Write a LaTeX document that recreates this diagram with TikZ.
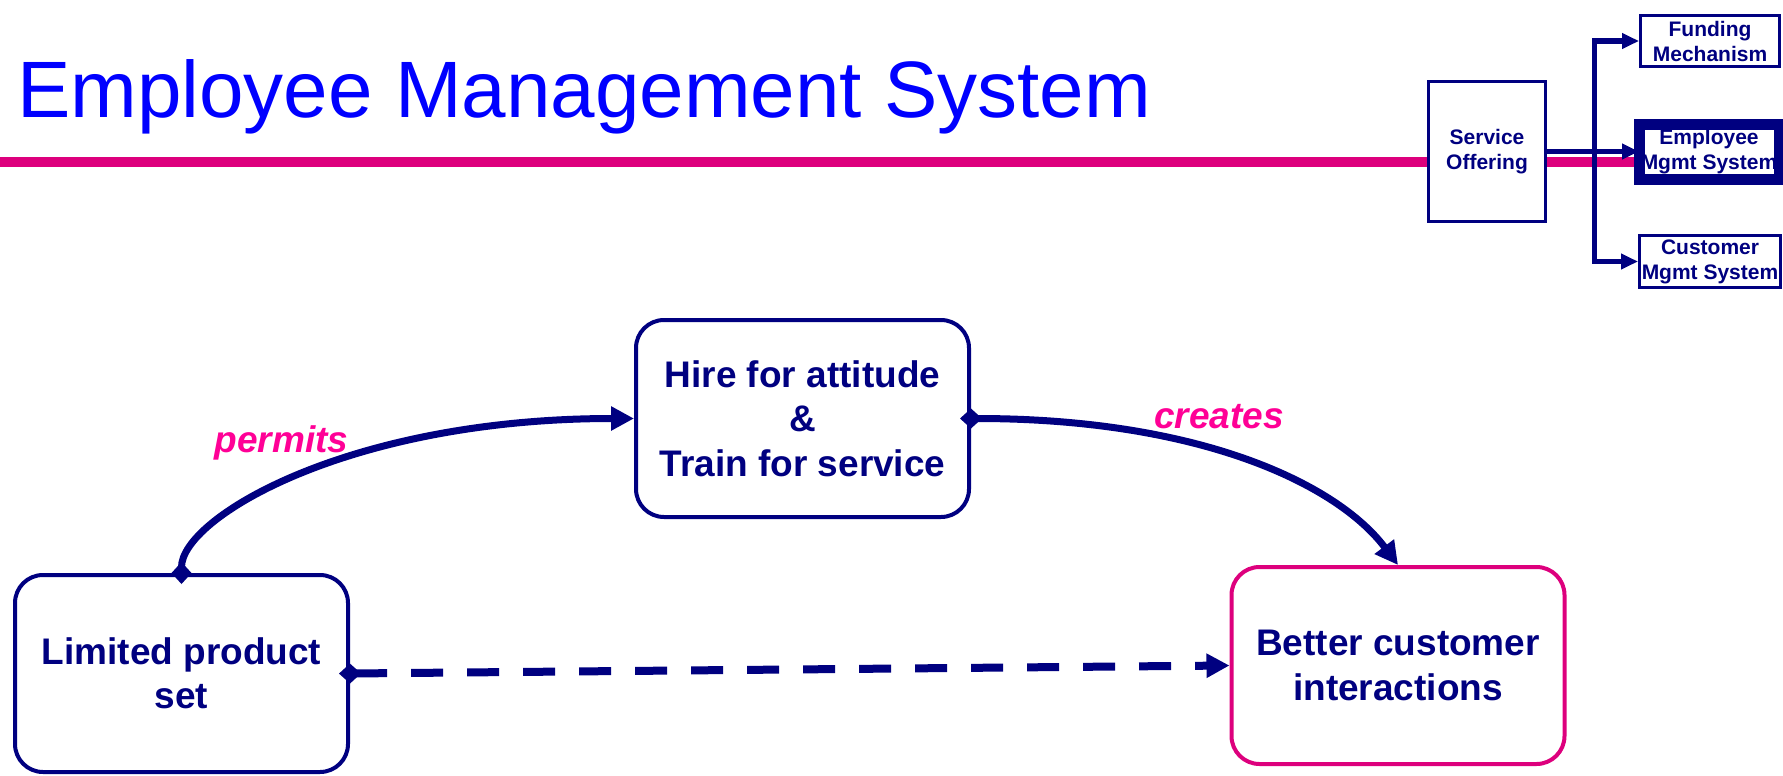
\documentclass[tikz,border=0pt]{standalone}
\usepackage{fontspec}
\setmainfont{Liberation Sans}
\usetikzlibrary{arrows.meta, positioning, calc}
\definecolor{navy}{RGB}{0,0,128}
\definecolor{titleblue}{RGB}{0,0,255}
\definecolor{barpink}{RGB}{221,0,125}
\definecolor{labelpink}{RGB}{255,0,150}

\tikzset{
  mainbox/.style={rounded corners=28pt, draw=navy, line width=4pt, fill=white, text=navy,
                  minimum width=333pt, minimum height=197pt, inner sep=0pt, align=center,
                  font=\fontsize{37}{44.5}\selectfont\bfseries},
  tinybox/.style={draw=navy, line width=3pt, fill=white, text=navy, inner sep=0pt,
                  align=center, font=\fontsize{21}{25}\selectfont\bfseries},
  linkarrow/.style={navy, line width=7pt, shorten <=-11pt,
                    {Diamond[length=22pt,width=20pt]}-{Triangle[length=23pt,width=23pt]}},
  linklabel/.style={text=labelpink, anchor=base, inner sep=0pt,
                    font=\fontsize{37}{44}\selectfont\bfseries\itshape},
  branch/.style={navy, line width=5.5pt, -{Triangle[length=17pt,width=15pt]}},
}

\begin{document}
\begin{tikzpicture}[x=1pt, y=-1pt]
  \useasboundingbox (0,0) rectangle (1783,776);

  % heading and rule
  \draw[barpink, line width=10pt] (0,162) -- (1640,162);
  \node[anchor=base west, inner sep=0pt, text=titleblue, font=\fontsize{80}{90}\selectfont]
    (title) at (17,117) {Employee Management System};

  % navigation map, top right
  \node[tinybox, minimum width=117pt, minimum height=140pt] (svc) at (1487,151.5) {Service\\Offering};
  \node[tinybox, minimum width=139pt, minimum height=51pt] (fund) at (1710,41) {Funding\\Mechanism};
  \node[tinybox, draw=none, minimum width=137pt, minimum height=52pt] (emp) at (1709,151.5) {Employee\\Mgmt System};
  \draw[navy, line width=11pt] (emp.south west) rectangle (emp.north east);
  \node[tinybox, minimum width=141pt, minimum height=52pt] (cust) at (1710,261.5) {Customer\\Mgmt System};

  \coordinate (fork) at (1594.5,151.5);
  \draw[branch] (svc.east) -- (emp.west);
  \draw[branch] (fork) |- (fund.west);
  \draw[branch] (fork) |- (cust.west);

  % main chain
  \node[mainbox] (hire) at (802.5,418.5) {Hire for attitude\\\&\\Train for service};
  \node[mainbox] (limited) at (181.5,673.5) {Limited product\\set};
  \node[mainbox, draw=barpink] (better) at (1398,665.5) {Better customer\\interactions};

  \draw[linkarrow] (limited.north) .. controls +(0,-55) and +(-286,0) .. (hire.west);
  \draw[linkarrow] (hire.east) .. controls +(231,0) and +(-60,-80) .. (better.north);
  \draw[linkarrow, line width=8pt, dash pattern=on 32pt off 24pt] (limited.east) -- (better.west);

  \node[linklabel] (permitslbl) at (281.5,452) {permits};
  \node[linklabel] (createslbl) at (1219,428) {creates};
\end{tikzpicture}
\end{document}
